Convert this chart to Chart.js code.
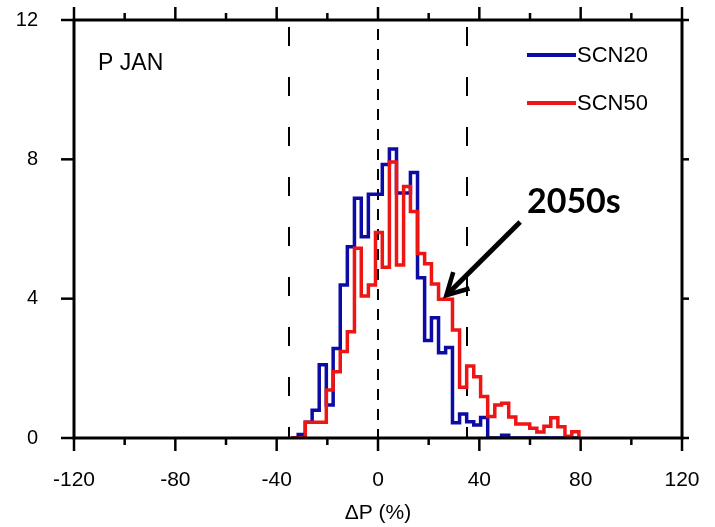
<!DOCTYPE html>
<html><head><meta charset="utf-8">
<script src="https://cdn.jsdelivr.net/npm/chart.js@4/dist/chart.umd.min.js"></script>
<style>html,body{margin:0;padding:0;background:#fff}#wrap{width:715px;height:527px}</style>
</head><body><div id="wrap"><canvas id="c" width="715" height="527"></canvas></div>
<script>
// Histogram bin edges (ΔP %)
const binEdges = [-34.3, -31.5, -28.7, -26.0, -23.2, -20.4, -17.7, -14.9, -12.1, -9.3, -6.6, -3.8, -1.0, 1.7, 4.5, 7.3, 10.1, 12.8, 15.6, 18.4, 21.1, 23.9, 26.7, 29.4, 32.2, 35.0, 37.8, 40.5, 43.3, 46.1, 48.8, 51.6, 54.4, 57.1, 59.9, 62.7, 65.5, 68.2, 71.0, 73.8, 76.5, 79.3];
// Frequency per bin
const scn20 = [0, 0.1, 0.45, 0.8, 2.1, 0.95, 2.57, 4.39, 5.49, 6.88, 5.78, 7.0, 7.0, 7.85, 8.3, 7.03, 7.03, 7.62, 4.6, 2.8, 3.45, 2.45, 2.6, 0.44, 0.69, 0.47, 0.37, 0.59, 0, 0, 0.08, 0, 0, 0, 0, 0, 0, 0, 0, 0, 0];
const scn50 = [0, 0, 0.45, 0.45, 0.45, 1.38, 1.9, 2.48, 3.05, 5.45, 4.08, 4.39, 5.9, 4.9, 7.92, 4.97, 7.22, 6.5, 5.3, 5.0, 4.42, 3.98, 3.98, 3.1, 1.46, 2.07, 1.76, 1.19, 0.62, 0.95, 1.0, 0.6, 0.4, 0.4, 0.28, 0.17, 0.34, 0.58, 0.32, 0.05, 0.18];
const seriesNames = ['SCN20', 'SCN50'];
const xTicks = [-120, -80, -40, 0, 40, 80, 120];
const xMinorTicks = [-100, -60, -20, 20, 60, 100];
const yTicks = [0, 4, 8, 12];
const refLines = [-35, 0, 35];
const panelLabel = 'P JAN';
const arrowLabel = '2050s';
const xTitle = 'ΔP (%)';

const BLUE = '#0c0ca4', RED = '#ee1515';

function steps(vals) {
  const pts = [{x: binEdges[0], y: 0}];
  vals.forEach((v, i) => pts.push({x: binEdges[i], y: v}));
  pts.push({x: binEdges[vals.length], y: 0});
  return pts;
}

const decor = {
  id: 'decor',
  beforeDatasetsDraw(chart) {
    const {ctx, chartArea: a, scales: {x}} = chart;
    ctx.save();
    ctx.strokeStyle = '#000';
    refLines.forEach(v => {
      const px = Math.round(x.getPixelForValue(v));
      ctx.lineWidth = 2;
      if (v === 0) { ctx.setLineDash([11, 9]); ctx.lineDashOffset = -9; }
      else { ctx.setLineDash([19, 31]); ctx.lineDashOffset = -7; }
      ctx.beginPath(); ctx.moveTo(px, a.top); ctx.lineTo(px, a.bottom); ctx.stroke();
    });
    ctx.restore();
  },
  afterDatasetsDraw(chart) {
    const {ctx, chartArea: a, scales: {x, y}} = chart;
    ctx.save();
    ctx.strokeStyle = '#000';
    ctx.lineWidth = 3;
    ctx.setLineDash([]);
    ctx.strokeRect(a.left, a.top, a.right - a.left, a.bottom - a.top);
    ctx.lineWidth = 2.5;
    const seg = (x1, y1, x2, y2) => { ctx.beginPath(); ctx.moveTo(x1, y1); ctx.lineTo(x2, y2); ctx.stroke(); };
    xTicks.forEach(v => { const p = x.getPixelForValue(v); seg(p, a.bottom, p, a.bottom + 13); seg(p, a.top, p, a.top - 13); });
    xMinorTicks.forEach(v => { const p = x.getPixelForValue(v); seg(p, a.bottom, p, a.bottom + 7); seg(p, a.top, p, a.top - 7); });
    yTicks.forEach(v => { const p = y.getPixelForValue(v); seg(a.left, p, a.left - 13, p); seg(a.right, p, a.right + 7, p); });

    // legend
    ctx.font = '22px "Liberation Sans", Arial, sans-serif';
    ctx.textBaseline = 'middle';
    ctx.fillStyle = '#000';
    [[BLUE, 0, 55], [RED, 1, 103]].forEach(([c, i, py]) => {
      ctx.strokeStyle = c; ctx.lineWidth = 4;
      seg(527, py, 576, py);
      ctx.fillText(seriesNames[i], 577, py + 1);
    });

    // panel label
    ctx.font = '23px "Liberation Sans", Arial, sans-serif';
    ctx.textBaseline = 'alphabetic';
    ctx.fillText(panelLabel, x.getPixelForValue(-110.5), y.getPixelForValue(10.56));

    // 2050s label + arrow
    ctx.font = 'bold 34px Lato, "Liberation Sans", sans-serif';
    ctx.fillText(arrowLabel, x.getPixelForValue(58.8), y.getPixelForValue(6.45));
    const tx = x.getPixelForValue(56.1), ty = y.getPixelForValue(6.2);
    const hx = x.getPixelForValue(27.0), hy = y.getPixelForValue(4.1);
    ctx.strokeStyle = '#000'; ctx.lineWidth = 5; ctx.lineCap = 'butt';
    seg(tx, ty, hx + 3, hy - 3);
    const ang = Math.atan2(hy - ty, hx - tx);
    const L = 24, s = 0.5;
    ctx.lineWidth = 4.5; ctx.lineJoin = 'miter';
    ctx.beginPath();
    ctx.moveTo(hx - L * Math.cos(ang - s), hy - L * Math.sin(ang - s));
    ctx.lineTo(hx, hy);
    ctx.lineTo(hx - L * Math.cos(ang + s), hy - L * Math.sin(ang + s));
    ctx.stroke();
    ctx.restore();
  }
};

const tickFont = {family: '"Liberation Sans", Arial, sans-serif', size: 21};
new Chart(document.getElementById('c'), {
  type: 'line',
  data: {
    datasets: [
      {label: seriesNames[1], data: steps(scn50), borderColor: RED, borderWidth: 3.5, stepped: 'before', pointRadius: 0, fill: false, order: 0},
      {label: seriesNames[0], data: steps(scn20), borderColor: BLUE, borderWidth: 3.5, stepped: 'before', pointRadius: 0, fill: false, order: 1}
    ]
  },
  options: {
    responsive: false, animation: false, devicePixelRatio: 1,
    layout: {padding: {top: 20, right: 33, left: 0, bottom: 0}},
    plugins: {legend: {display: false}, tooltip: {enabled: false}},
    scales: {
      x: {
        type: 'linear', min: -120, max: 120,
        afterBuildTicks: s => { s.ticks = xTicks.map(v => ({value: v})); },
        grid: {display: false}, border: {display: false},
        ticks: {font: tickFont, color: '#000', padding: 22, maxRotation: 0, autoSkip: false},
        title: {display: true, text: xTitle, font: tickFont, color: '#000', padding: {top: 0, bottom: 1}},
        afterFit: s => { s.height = 89; s.paddingLeft = 0; s.paddingRight = 0; s.paddingTop = 0; s.paddingBottom = 0; }
      },
      y: {
        type: 'linear', min: 0, max: 12,
        afterBuildTicks: s => { s.ticks = yTicks.map(v => ({value: v})); },
        grid: {display: false}, border: {display: false},
        ticks: {font: {family: '"Liberation Sans", Arial, sans-serif', size: 20}, color: '#000', padding: 28},
        afterFit: s => { s.width = 74; s.paddingLeft = 0; s.paddingRight = 0; s.paddingTop = 0; s.paddingBottom = 0; }
      }
    }
  },
  plugins: [decor]
});
</script></body></html>
